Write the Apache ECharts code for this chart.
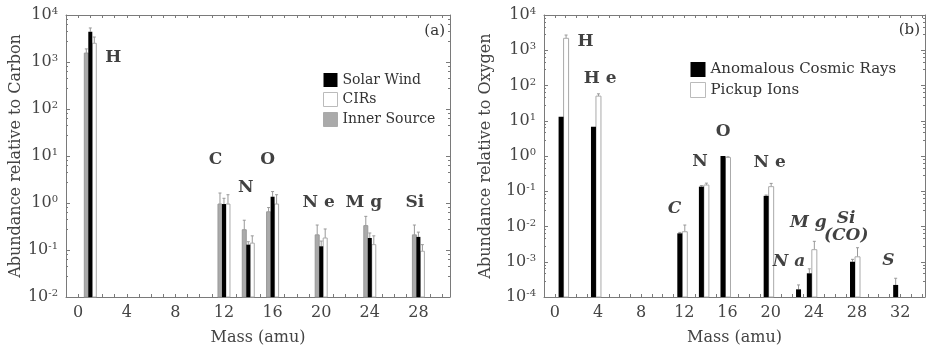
<!DOCTYPE html>
<html>
<head>
<meta charset="utf-8">
<script src="https://cdn.jsdelivr.net/npm/echarts@6/dist/echarts.min.js"></script>
<style>
  html, body { margin: 0; padding: 0; background: #fff; }
  #chart { width: 928px; height: 352px; }
</style>
</head>
<body>
<div id="chart"></div>
<script>
// panel (a): abundance relative to carbon
const massA = [1, 12, 14, 16, 20, 24, 28];
const solarWind = [4400, 0.95, 0.13, 1.36, 0.12, 0.18, 0.19];
const solarWindErr = [5300, 1.26, 0.15, 1.75, 0.155, 0.23, 0.24];
const cirs = [2500, 0.95, 0.14, 0.95, 0.18, 0.13, 0.094];
const cirsErr = [3400, 1.5, 0.2, 1.5, 0.28, 0.2, 0.13];
const innerSource = [1550, 0.95, 0.27, 0.65, 0.21, 0.33, 0.21];
const innerSourceErr = [1900, 1.63, 0.43, 0.8, 0.34, 0.52, 0.34];

// panel (b): abundance relative to oxygen
const massAcr = [1, 4, 12, 14, 16, 20, 23, 24, 28, 32];
const acr = [13, 6.8, 0.0064, 0.135, 1.0, 0.074, 1.65e-4, 4.7e-4, 1.0e-3, 2.2e-4];
const acrErr = [null, null, 0.0068, 0.145, null, 0.078, 2.2e-4, 6.3e-4, 1.17e-3, 3.4e-4];
const massPui = [1, 4, 12, 14, 16, 20, 24, 28];
const pui = [2180, 50, 0.0071, 0.15, 0.91, 0.135, 2.2e-3, 1.38e-3];
const puiErr = [2700, 58, 0.011, 0.17, 0.95, 0.167, 3.8e-3, 2.5e-3];

// element annotations [mass, value, text]
const labelsA = [[2.9, 1260, 'H'], [11.3, 8.2, 'C'], [13.8, 2.1, 'N'], [15.6, 8.2, 'O'],
  [19.8, 1.0, 'N e'], [23.5, 1.0, 'M g'], [27.7, 1.0, 'Si']];
const labelsB = [[2.85, 1750, 'H'], [4.2, 160, 'H e'], [13.45, 0.69, 'N'], [15.6, 4.9, 'O'],
  [19.9, 0.63, 'N e']];
const labelsBItalic = [[11.1, 0.032, 'C'], [23.5, 0.0126, 'M g'], [27.0, 0.0094, 'Si\n(CO)'],
  [21.7, 0.001, 'N a'], [30.9, 0.0011, 'S']];

const FONT = 'DejaVu Serif';
const frame = '#7a7a7a';

const myChart = echarts.init(document.getElementById('chart'));

// bars drawn through the axes with a pixel offset inside each group
const barRender = (offset, width, fill, stroke) => (params, api) => {
  const m = api.value(0), v = api.value(1), e = api.value(2);
  const top = api.coord([m, v]);
  const bottom = params.coordSys.y + params.coordSys.height;
  const cx = top[0] + offset;
  const children = [];
  if (!isNaN(e)) {
    const pe = api.coord([m, e]);
    children.push({ type: 'line', shape: { x1: cx, y1: top[1], x2: cx, y2: pe[1] },
      style: { stroke: '#999', lineWidth: 1 } });
    children.push({ type: 'line', shape: { x1: cx - 1.5, y1: pe[1], x2: cx + 1.5, y2: pe[1] },
      style: { stroke: '#999', lineWidth: 1 } });
  }
  children.push({ type: 'rect', shape: { x: cx - width / 2, y: top[1], width: width, height: bottom - top[1] },
    style: { fill: fill, stroke: stroke, lineWidth: stroke ? 1 : 0 } });
  return { type: 'group', children: children };
};

const toData = (ms, vs, es) => ms.map((m, i) => [m, vs[i], es[i] == null ? '-' : es[i]]);

const yLabel = {
  fontFamily: FONT, color: '#444', margin: 8,
  formatter: v => '{b|10}{e|' + Math.round(Math.log10(v)) + '}',
  rich: {
    b: { fontFamily: FONT, fontSize: 16, color: '#444' },
    e: { fontFamily: FONT, fontSize: 10, color: '#444', verticalAlign: 'top', padding: [0, 0, 7, 0] }
  }
};

const xAxisBase = (grid, min, max, pos) => ({
  type: 'value', gridIndex: grid, min: min, max: max, interval: 1, position: pos,
  axisLine: { show: true, onZero: false, lineStyle: { color: frame, width: 1 } },
  axisTick: { show: true, inside: true, length: 3, lineStyle: { color: frame } },
  splitLine: { show: false },
  axisLabel: pos === 'bottom' ? {
    show: true, fontFamily: FONT, fontSize: 16, color: '#444', margin: 8,
    formatter: v => (Math.abs(v % 4) < 1e-9 ? String(v) : '')
  } : { show: false },
  name: pos === 'bottom' ? 'Mass (amu)' : '',
  nameLocation: 'middle', nameGap: 33,
  nameTextStyle: { fontFamily: FONT, fontSize: 16, color: '#444' }
});

const yAxisBase = (grid, min, max, pos, name, gap) => ({
  type: 'log', logBase: 10, gridIndex: grid, min: min, max: max, interval: 1, position: pos,
  axisLine: { show: true, onZero: false, lineStyle: { color: frame, width: 1 } },
  axisTick: { show: true, inside: true, length: 4, lineStyle: { color: frame } },
  minorTick: { show: true, splitNumber: 5, length: 2, lineStyle: { color: frame } },
  splitLine: { show: false },
  axisLabel: pos === 'left' ? yLabel : { show: false },
  name: name, nameLocation: 'middle', nameGap: gap,
  nameTextStyle: { fontFamily: FONT, fontSize: 16, color: '#444' }
});

const labelSeries = (xi, yi, data, italic) => ({
  type: 'scatter', xAxisIndex: xi, yAxisIndex: yi, symbolSize: 0, silent: true,
  data: data,
  label: {
    show: true, position: 'inside', formatter: p => p.data[2],
    fontFamily: FONT, fontSize: 17, fontWeight: 'bold', lineHeight: 17,
    fontStyle: italic ? 'italic' : 'normal', color: '#111'
  }
});

const options = {
  animation: false,
  grid: [
    { left: 66, top: 15, width: 384, height: 282 },
    { left: 544, top: 15, width: 381, height: 282 }
  ],
  xAxis: [
    xAxisBase(0, -1, 30.6, 'bottom'),
    xAxisBase(0, -1, 30.6, 'top'),
    xAxisBase(1, -1, 34.3, 'bottom'),
    xAxisBase(1, -1, 34.3, 'top')
  ],
  yAxis: [
    yAxisBase(0, 0.01, 10000, 'left', 'Abundance relative to Carbon', 37),
    yAxisBase(0, 0.01, 10000, 'right', '', 0),
    yAxisBase(1, 0.0001, 10000, 'left', 'Abundance relative to Oxygen', 50),
    yAxisBase(1, 0.0001, 10000, 'right', '', 0)
  ],
  legend: [
    {
      left: 318, top: 68, orient: 'vertical', itemWidth: 14, itemHeight: 14, itemGap: 5,
      icon: 'rect', selectedMode: false,
      textStyle: { fontFamily: FONT, fontSize: 14, color: '#333' },
      data: [
        { name: 'Solar Wind', itemStyle: { color: '#000', borderWidth: 0 } },
        { name: 'CIRs', itemStyle: { color: '#fff', borderColor: '#bbb', borderWidth: 1 } },
        { name: 'Inner Source', itemStyle: { color: '#aaa', borderColor: '#aaa', borderWidth: 1 } }
      ]
    },
    {
      left: 685, top: 57, orient: 'vertical', itemWidth: 15, itemHeight: 15, itemGap: 5,
      icon: 'rect', selectedMode: false,
      textStyle: { fontFamily: FONT, fontSize: 15, color: '#333' },
      data: [
        { name: 'Anomalous Cosmic Rays', itemStyle: { color: '#000', borderWidth: 0 } },
        { name: 'Pickup Ions', itemStyle: { color: '#fff', borderColor: '#bbb', borderWidth: 1 } }
      ]
    }
  ],
  graphic: [
    { type: 'text', right: 928 - 445, top: 24, style: { text: '(a)', font: '15px "DejaVu Serif"', fill: '#333' } },
    { type: 'text', right: 928 - 920, top: 23, style: { text: '(b)', font: '15px "DejaVu Serif"', fill: '#333' } }
  ],
  series: [
    { name: 'Inner Source', type: 'custom', xAxisIndex: 0, yAxisIndex: 0, color: '#aaa',
      renderItem: barRender(-4, 4, '#aaa', '#999'), data: toData(massA, innerSource, innerSourceErr) },
    { name: 'CIRs', type: 'custom', xAxisIndex: 0, yAxisIndex: 0, color: '#fff',
      renderItem: barRender(4, 4, '#fff', '#aaa'), data: toData(massA, cirs, cirsErr) },
    { name: 'Solar Wind', type: 'custom', xAxisIndex: 0, yAxisIndex: 0, color: '#000',
      renderItem: barRender(0, 4, '#000', null), data: toData(massA, solarWind, solarWindErr) },
    { name: 'Pickup Ions', type: 'custom', xAxisIndex: 2, yAxisIndex: 2, color: '#fff',
      renderItem: barRender(0.5, 5, '#fff', '#aaa'), data: toData(massPui, pui, puiErr) },
    { name: 'Anomalous Cosmic Rays', type: 'custom', xAxisIndex: 2, yAxisIndex: 2, color: '#000',
      renderItem: barRender(-4.5, 5, '#000', null), data: toData(massAcr, acr, acrErr) },
    labelSeries(0, 0, labelsA, false),
    labelSeries(2, 2, labelsB, false),
    labelSeries(2, 2, labelsBItalic, true)
  ]
};

myChart.setOption(options);
</script>
</body>
</html>
